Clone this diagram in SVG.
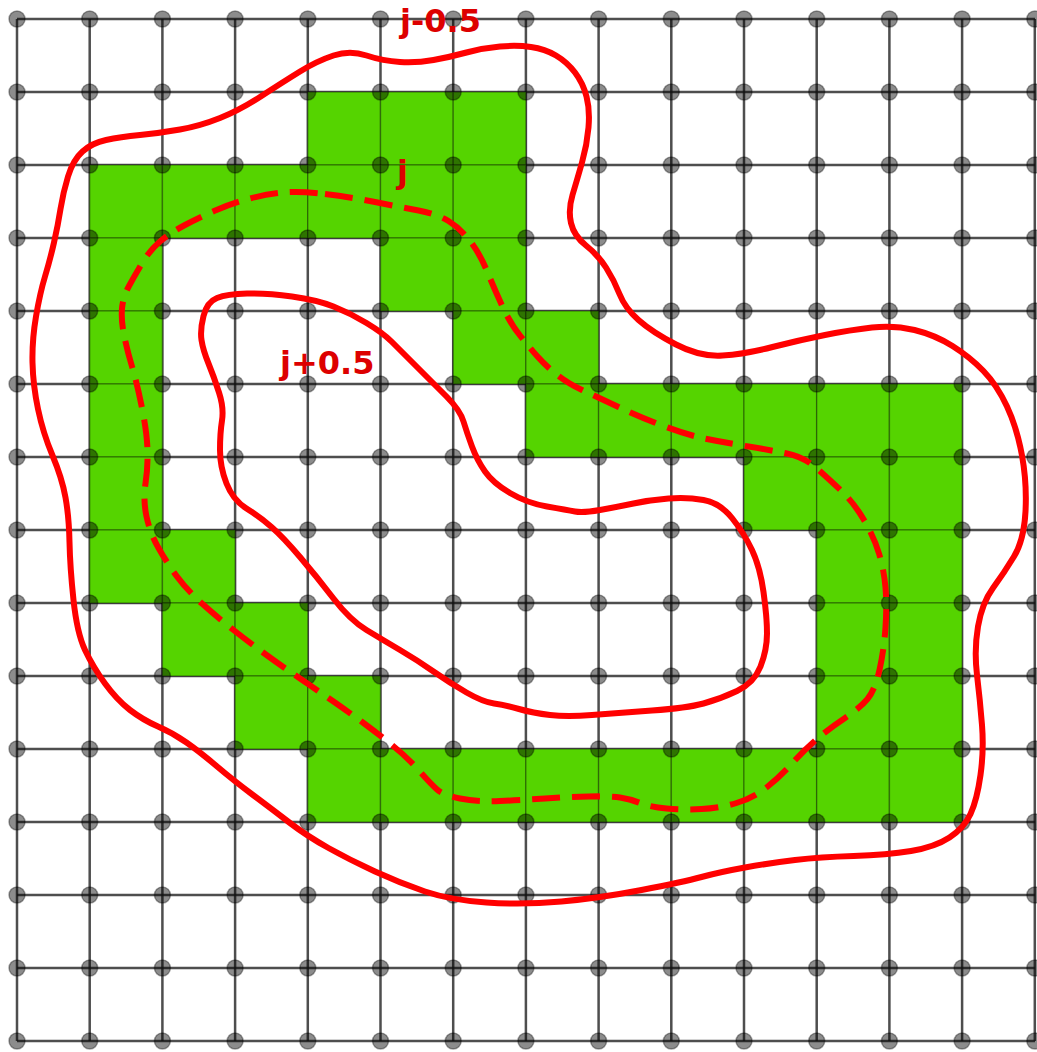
<svg xmlns="http://www.w3.org/2000/svg" xmlns:xlink="http://www.w3.org/1999/xlink" width="1037" height="1052" viewBox="0 0 1037 1052">
<style>
.grid{fill:none;stroke:#222;stroke-opacity:.8;stroke-width:2.5}
.cell{fill:#55d400;stroke:#000;stroke-opacity:.3;stroke-width:1.5}
.dot{fill:#000;fill-opacity:.45;stroke:#000;stroke-opacity:.35;stroke-width:1.5}
.level{fill:none;stroke:#ff0000;stroke-width:6;stroke-linejoin:round;stroke-linecap:round}
.dash{stroke-dasharray:28 12;stroke-linecap:butt}
.lbl{font-family:"DejaVu Sans","Liberation Sans",sans-serif;font-weight:bold;font-size:32px;fill:#dd0000}
</style>
<defs>
<g id="dotrow">
<circle class="dot" cx="17" cy="0" r="8"/><circle class="dot" cx="89.7" cy="0" r="8"/><circle class="dot" cx="162.4" cy="0" r="8"/><circle class="dot" cx="235.1" cy="0" r="8"/><circle class="dot" cx="307.8" cy="0" r="8"/><circle class="dot" cx="380.5" cy="0" r="8"/><circle class="dot" cx="453.2" cy="0" r="8"/><circle class="dot" cx="525.9" cy="0" r="8"/><circle class="dot" cx="598.6" cy="0" r="8"/><circle class="dot" cx="671.3" cy="0" r="8"/><circle class="dot" cx="744" cy="0" r="8"/><circle class="dot" cx="816.7" cy="0" r="8"/><circle class="dot" cx="889.4" cy="0" r="8"/><circle class="dot" cx="962.1" cy="0" r="8"/><circle class="dot" cx="1034.8" cy="0" r="8"/>
</g>
</defs>
<rect width="1037" height="1052" fill="#fff"/>
<g id="grid-lines">
<path class="grid" d="M17 19V1041M89.7 19V1041M162.4 19V1041M235.1 19V1041M307.8 19V1041M380.5 19V1041M453.2 19V1041M525.9 19V1041M598.6 19V1041M671.3 19V1041M744 19V1041M816.7 19V1041M889.4 19V1041M962.1 19V1041M1034.8 19V1041"/>
<path class="grid" d="M17 19H1035M17 92H1035M17 165H1035M17 238H1035M17 311H1035M17 384H1035M17 457H1035M17 530H1035M17 603H1035M17 676H1035M17 749H1035M17 822H1035M17 895H1035M17 968H1035M17 1041H1035"/>
</g>
<g id="green-cells">
<rect class="cell" x="307.8" y="92" width="72.7" height="73"/><rect class="cell" x="380.5" y="92" width="72.7" height="73"/><rect class="cell" x="453.2" y="92" width="72.7" height="73"/>
<rect class="cell" x="89.7" y="165" width="72.7" height="73"/><rect class="cell" x="162.4" y="165" width="72.7" height="73"/><rect class="cell" x="235.1" y="165" width="72.7" height="73"/><rect class="cell" x="307.8" y="165" width="72.7" height="73"/><rect class="cell" x="380.5" y="165" width="72.7" height="73"/><rect class="cell" x="453.2" y="165" width="72.7" height="73"/>
<rect class="cell" x="89.7" y="238" width="72.7" height="73"/><rect class="cell" x="380.5" y="238" width="72.7" height="73"/><rect class="cell" x="453.2" y="238" width="72.7" height="73"/>
<rect class="cell" x="89.7" y="311" width="72.7" height="73"/><rect class="cell" x="453.2" y="311" width="72.7" height="73"/><rect class="cell" x="525.9" y="311" width="72.7" height="73"/>
<rect class="cell" x="89.7" y="384" width="72.7" height="73"/><rect class="cell" x="525.9" y="384" width="72.7" height="73"/><rect class="cell" x="598.6" y="384" width="72.7" height="73"/><rect class="cell" x="671.3" y="384" width="72.7" height="73"/><rect class="cell" x="744" y="384" width="72.7" height="73"/><rect class="cell" x="816.7" y="384" width="72.7" height="73"/><rect class="cell" x="889.4" y="384" width="72.7" height="73"/>
<rect class="cell" x="89.7" y="457" width="72.7" height="73"/><rect class="cell" x="744" y="457" width="72.7" height="73"/><rect class="cell" x="816.7" y="457" width="72.7" height="73"/><rect class="cell" x="889.4" y="457" width="72.7" height="73"/>
<rect class="cell" x="89.7" y="530" width="72.7" height="73"/><rect class="cell" x="162.4" y="530" width="72.7" height="73"/><rect class="cell" x="816.7" y="530" width="72.7" height="73"/><rect class="cell" x="889.4" y="530" width="72.7" height="73"/>
<rect class="cell" x="162.4" y="603" width="72.7" height="73"/><rect class="cell" x="235.1" y="603" width="72.7" height="73"/><rect class="cell" x="816.7" y="603" width="72.7" height="73"/><rect class="cell" x="889.4" y="603" width="72.7" height="73"/>
<rect class="cell" x="235.1" y="676" width="72.7" height="73"/><rect class="cell" x="307.8" y="676" width="72.7" height="73"/><rect class="cell" x="816.7" y="676" width="72.7" height="73"/><rect class="cell" x="889.4" y="676" width="72.7" height="73"/>
<rect class="cell" x="307.8" y="749" width="72.7" height="73"/><rect class="cell" x="380.5" y="749" width="72.7" height="73"/><rect class="cell" x="453.2" y="749" width="72.7" height="73"/><rect class="cell" x="525.9" y="749" width="72.7" height="73"/><rect class="cell" x="598.6" y="749" width="72.7" height="73"/><rect class="cell" x="671.3" y="749" width="72.7" height="73"/><rect class="cell" x="744" y="749" width="72.7" height="73"/><rect class="cell" x="816.7" y="749" width="72.7" height="73"/><rect class="cell" x="889.4" y="749" width="72.7" height="73"/>
</g>
<g id="grid-dots">
<use href="#dotrow" y="19"/><use href="#dotrow" y="92"/><use href="#dotrow" y="165"/><use href="#dotrow" y="238"/><use href="#dotrow" y="311"/><use href="#dotrow" y="384"/><use href="#dotrow" y="457"/><use href="#dotrow" y="530"/><use href="#dotrow" y="603"/><use href="#dotrow" y="676"/><use href="#dotrow" y="749"/><use href="#dotrow" y="822"/><use href="#dotrow" y="895"/><use href="#dotrow" y="968"/><use href="#dotrow" y="1041"/>
</g>
<g id="level-curves">
<path id="level-j-minus" class="level" d="M466.5 52.5 Q483 48 500 46.5 Q517 45 531 47 Q545 49 556 55.5 Q567 62 575 72.5 Q583 83 586.5 96.5 Q590 110 588.5 127.5 Q587 145 582 162.5 Q577 180 572.5 195 Q568 210 571 223 Q574 236 586 245.5 Q598 255 606 267.5 Q614 280 619.5 294 Q625 308 638.5 320 Q652 332 676 344.5 Q700 357 722.5 355.5 Q745 354 772.5 347 Q800 340 825 335 Q850 330 872 327.5 Q894 325 914.5 330 Q935 335 952.5 346 Q970 357 983.5 371 Q997 385 1007 406.5 Q1017 428 1022 455.5 Q1027 483 1025.5 511.5 Q1024 540 1014 556.5 Q1004 573 993 588 Q982 603 978 626.5 Q974 650 977 675 Q980 700 982 725 Q984 750 980.5 775 Q977 800 970.5 814 Q964 828 949.5 837.5 Q935 847 911 851 Q887 855 853.5 856 Q820 857 795 860 Q770 863 745 867.5 Q720 872 701.5 877 Q683 882 641.5 890 Q600 898 561.5 901.5 Q523 905 486.5 902.5 Q450 900 425 891.5 Q400 883 375 871.5 Q350 860 328.5 848 Q307 836 290 823 Q273 810 253 795 Q233 780 216.5 766 Q200 752 186.5 742.5 Q173 733 158 726.5 Q143 720 130 710 Q117 700 105 683.5 Q93 667 85 650 Q77 633 73.5 600 Q70 567 69.5 542 Q69 517 65.5 497.5 Q62 478 52.5 455.5 Q43 433 38 409 Q33 385 32.5 362.5 Q32 340 36 316.5 Q40 293 45 276.5 Q50 260 54 242.5 Q58 225 60.5 209 Q63 193 68 176.5 Q73 160 82.5 151.5 Q92 143 106 140 Q120 137 140 135 Q160 133 180 129.5 Q200 126 220 118 Q240 110 261.5 96 Q283 82 300 71.5 Q317 61 333.5 55.5 Q350 50 366.5 55.5 Q383 61 400 62 Q417 63 433.5 60 Q450 57 466.5 52.5 Z"/>
<path id="level-j" class="level dash" d="M325 194 Q350 197 375 202 Q400 207 418.5 210.5 Q437 214 448.5 221 Q460 228 470 241 Q480 254 487 271 Q494 288 502 305.5 Q510 323 520 335.5 Q530 348 537.5 356.5 Q545 365 556 374 Q567 383 582 390 Q597 397 618.5 407 Q640 417 663.5 426 Q687 435 707 439 Q727 443 748.5 446.5 Q770 450 787 453.5 Q804 457 817 468.5 Q830 480 842 491.5 Q854 503 864 520 Q874 537 879 553.5 Q884 570 885.5 587.5 Q887 605 885.5 627.5 Q884 650 879.5 670 Q875 690 867.5 699 Q860 708 845 718 Q830 728 817 739 Q804 750 792 763.5 Q780 777 766.5 787.5 Q753 798 736.5 803 Q720 808 701.5 809 Q683 810 666.5 808.5 Q650 807 640 803 Q630 799 620 797.5 Q610 796 588.5 796.5 Q567 797 545 798.5 Q523 800 500 801 Q477 802 460 798.5 Q443 795 436.5 789 Q430 783 418.5 770 Q407 757 392 745 Q377 733 363.5 723 Q350 713 333.5 701.5 Q317 690 300 678.5 Q283 667 266.5 655 Q250 643 233.5 630 Q217 617 202 603.5 Q187 590 177 576.5 Q167 563 158.5 548 Q150 533 146.5 516.5 Q143 500 145.5 483.5 Q148 467 147.5 450 Q147 433 142 408 Q137 383 132 366.5 Q127 350 124 335 Q121 320 122 308.5 Q123 297 129 286 Q135 275 142.5 262.5 Q150 250 160 241.5 Q170 233 185 225 Q200 217 216.5 210 Q233 203 250 198.5 Q267 194 283.5 192.5 Q300 191 325 194 Z"/>
<path id="level-j-plus" class="level" d="M201.5 340 Q200 330 203.5 316 Q207 302 217 298 Q227 294 247 293.5 Q267 293 292 296.5 Q317 300 333.5 306.5 Q350 313 366.5 323 Q383 333 391.5 341.5 Q400 350 416.5 366.5 Q433 383 446.5 396.5 Q460 410 463.5 421.5 Q467 433 472 446.5 Q477 460 485 471.5 Q493 483 510 493 Q527 503 547 506.5 Q567 510 575 511.5 Q583 513 600 510 Q617 507 633.5 503.5 Q650 500 668.5 498.5 Q687 497 703.5 500 Q720 503 732 518 Q744 533 752 550 Q760 567 763.5 592 Q767 617 767 633.5 Q767 650 760.5 666.5 Q754 683 737 691 Q720 699 703.5 703.5 Q687 708 652 710.5 Q617 713 592 715 Q567 717 550 715 Q533 713 519 709 Q505 705 494 703.5 Q483 702 466.5 692.5 Q450 683 433.5 671.5 Q417 660 400 650 Q383 640 366.5 630 Q350 620 333.5 598.5 Q317 577 300 557 Q283 537 271.5 527 Q260 517 246.5 508.5 Q233 500 226.5 483.5 Q220 467 220 450 Q220 433 222 420.5 Q224 408 219 392.5 Q214 377 208.5 363.5 Q203 350 201.5 340 Z"/>
</g>
<g id="labels">
<text class="lbl" x="400" y="32">j-0.5</text>
<text class="lbl" x="397" y="183">j</text>
<text class="lbl" x="280" y="374">j+0.5</text>
</g>
</svg>
